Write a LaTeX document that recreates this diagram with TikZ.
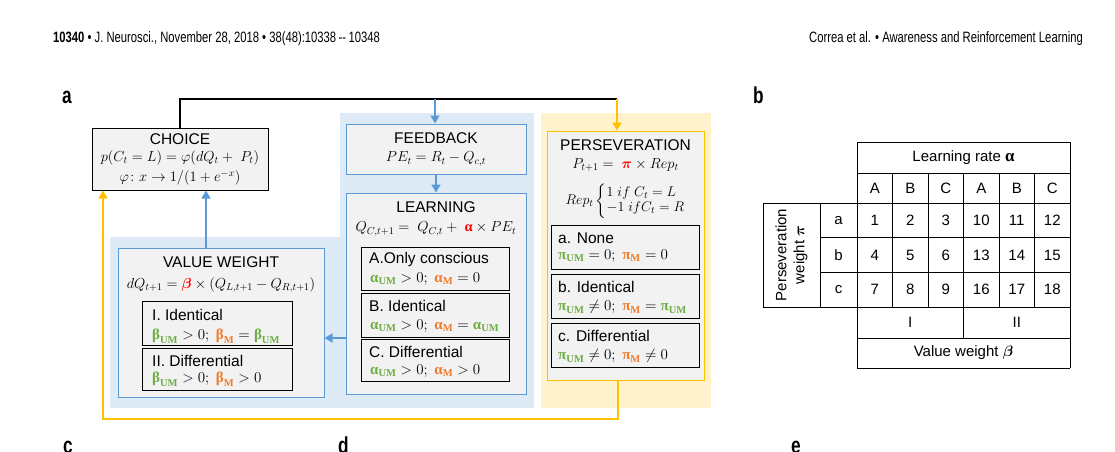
\RequirePackage{fix-cm}
\documentclass[tikz,border=0pt]{standalone}
\usepackage{amsmath}
\usepackage{fontspec}
\setmainfont{Liberation Sans}
\newfontfamily\hdrfont[FakeStretch=0.75]{Liberation Sans}
\newfontfamily\grkfont{Liberation Serif}
\usetikzlibrary{arrows.meta}

\definecolor{bluebg}{HTML}{DEEAF6}
\definecolor{blueln}{HTML}{5B9BD5}
\definecolor{yelbg}{HTML}{FFF2CC}
\definecolor{yelln}{HTML}{FFC000}
\definecolor{boxgray}{HTML}{F2F2F2}
\definecolor{grn}{HTML}{70AD47}
\definecolor{org}{HTML}{ED7D31}
\definecolor{rd}{HTML}{FF0000}

% bold upright greek with a subscript
\newcommand{\gk}[3]{\textcolor{#1}{\text{\grkfont\bfseries #2}_{\text{\grkfont\bfseries #3}}}}
\newcommand{\rgk}[1]{\textcolor{rd}{\text{\grkfont\bfseries #1}}}

\begin{document}
\begin{tikzpicture}[x=1pt,y=-1pt,
    box/.style={draw=black,fill=boxgray,line width=1pt,inner sep=0pt},
    bbox/.style={draw=blueln,fill=boxgray,line width=1pt,inner sep=0pt},
    ybox/.style={draw=yelln,fill=boxgray,line width=1pt,inner sep=0pt},
    ttl/.style={font=\fontsize{15.5}{17}\selectfont,inner sep=0pt},
    frm/.style={font=\fontsize{14.5}{17}\selectfont,inner sep=0pt},
    sub/.style={font=\fontsize{15.5}{17}\selectfont,inner sep=0pt,anchor=west},
    subf/.style={font=\fontsize{15}{17}\selectfont,inner sep=0pt,anchor=west},
    barrow/.style={draw=blueln,line width=1.6pt,-{Triangle[length=8pt,width=9pt]}},
    yarrow/.style={draw=yelln,line width=1.6pt,-{Triangle[length=8pt,width=9pt]}},
    cell/.style={font=\fontsize{15}{17}\selectfont,inner sep=0pt},
    panel/.style={font=\hdrfont\bfseries\fontsize{23}{23}\selectfont,inner sep=0pt,anchor=base west}]
\useasboundingbox (0,0) rectangle (1115,451);

% header
\node[anchor=base west,inner sep=0pt,font=\hdrfont\fontsize{15}{15}\selectfont] (hl) at (53,42)
  {\textbf{10340} \textbullet\ J. Neurosci., November 28, 2018 \textbullet\ 38(48):10338\,--\,10348};
\node[anchor=base east,inner sep=0pt,font=\hdrfont\fontsize{15}{15}\selectfont] (hr) at (1083,42)
  {Correa et al. \textbullet\ Awareness and Reinforcement Learning};

\node[panel] (pa) at (62,103) {a};
\node[panel] (pb) at (753,103) {b};
\node[panel] (pc) at (63,453) {c};
\node[panel] (pd) at (338,453) {d};
\node[panel] (pe) at (791,453) {e};

% backgrounds
\fill[bluebg] (110,237) -- (340,237) -- (340,113) -- (534,113) -- (534,408) -- (110,408) -- cycle;
\fill[yelbg] (541,113) rectangle (711,408);

% choice
\node[box,minimum width=176,minimum height=62] (choice) at (180,159) {};
\node[ttl] (choiceT) at (180,139) {CHOICE};
\node[frm] (choiceF1) at (180,158) {$p(C_t = L) = \varphi(dQ_t +\ P_t)$};
\node[frm] (choiceF2) at (180,178) {$\varphi\colon x \to 1/(1+e^{-x})$};

% feedback
\node[bbox,minimum width=180,minimum height=50] (fb) at (436,149) {};
\node[ttl] (fbT) at (436,138) {FEEDBACK};
\node[frm] (fbF) at (436,159) {$PE_t = R_t - Q_{c,t}$};

% learning
\node[bbox,minimum width=180,minimum height=201] (learn) at (436,293.5) {};
\node[ttl] (learnT) at (436,207) {LEARNING};
\node[frm] (learnF) at (436,229) {$Q_{C,t+1} =\ Q_{C,t} +\ \rgk{α} \times PE_t$};
\node[box,minimum width=148,minimum height=43] (la) at (435,268.5) {};
\node[box,minimum width=148,minimum height=44] (lb) at (435,315) {};
\node[box,minimum width=148,minimum height=42] (lc) at (435,360) {};
\node[sub] (laT) at (369,259) {A.Only conscious};
\node[subf] (laF) at (370,279) {$\gk{grn}{α}{UM} > 0;\ \gk{org}{α}{M} = 0$};
\node[sub] (lbT) at (369,306) {B. Identical};
\node[subf] (lbF) at (370,326) {$\gk{grn}{α}{UM} > 0;\ \gk{org}{α}{M} = \gk{grn}{α}{UM}$};
\node[sub] (lcT) at (369,352) {C. Differential};
\node[subf] (lcF) at (370,371) {$\gk{grn}{α}{UM} > 0;\ \gk{org}{α}{M} > 0$};

% value weight
\node[bbox,minimum width=206,minimum height=149] (vw) at (221,322.5) {};
\node[ttl] (vwT) at (221,262) {VALUE WEIGHT};
\node[frm] (vwF) at (221,285) {$dQ_{t+1} = \textcolor{rd}{\boldsymbol{\beta}} \times (Q_{L,t+1} - Q_{R,t+1})$};
\node[box,minimum width=150,minimum height=44] (vi) at (217,323) {};
\node[box,minimum width=150,minimum height=42] (vii) at (217,369) {};
\node[sub] (viT) at (152,315) {I. Identical};
\node[subf] (viF) at (152,336) {$\gk{grn}{β}{UM} > 0;\ \gk{org}{β}{M} = \gk{grn}{β}{UM}$};
\node[sub] (viiT) at (152,361) {II. Differential};
\node[subf] (viiF) at (152,379) {$\gk{grn}{β}{UM} > 0;\ \gk{org}{β}{M} > 0$};

% perseveration
\node[ybox,minimum width=157,minimum height=249] (pers) at (625.5,255.5) {};
\node[ttl] (persT) at (625.5,145) {PERSEVERATION};
\node[frm] (persF) at (625.5,165) {$P_{t+1} =\ \textcolor{rd}{\boldsymbol{\pi}} \times Rep_t$};
\node[frm,font=\fontsize{14}{16}\selectfont] (persR) at (625.5,201)
  {$Rep_t \left\{\renewcommand{\arraystretch}{0.95}\begin{array}{@{}l@{}} 1\ if\ C_t = L\\ -1\ if C_t = R\end{array}\right.$};
\node[box,minimum width=148,minimum height=44] (pa1) at (625,247) {};
\node[box,minimum width=148,minimum height=44] (pb1) at (625,296) {};
\node[box,minimum width=148,minimum height=44] (pc1) at (625,345) {};
\node[sub] (paT) at (558,238) {a. None};
\node[subf] (paF) at (558,256) {$\gk{grn}{π}{UM} = 0;\ \gk{org}{π}{M} = 0$};
\node[sub] (pbT) at (558,287) {b. Identical};
\node[subf] (pbF) at (558,307) {$\gk{grn}{π}{UM} \neq 0;\ \gk{org}{π}{M} = \gk{grn}{π}{UM}$};
\node[sub] (pcT) at (558,336) {c. Differential};
\node[subf] (pcF) at (558,356) {$\gk{grn}{π}{UM} \neq 0;\ \gk{org}{π}{M} \neq 0$};

% connectors
\coordinate (jm) at (435,99);
\coordinate (jr) at (617,99);
\coordinate (yc) at (103,419);
\draw[line width=1.6pt] (choice.north) |- (jr);
\draw[barrow] (jm) -- (jm |- fb.north);
\draw[yarrow] (jr) -- (jr |- pers.north);
\draw[barrow] (fb.south) -- (learn.north);
\draw[barrow] (learn.west |- 0,338) -- (vw.east |- 0,338);
\draw[barrow] (vw.north -| 206,0) -- (choice.south -| 206,0);
\draw[yarrow] (pers.south -| 618,0) |- (yc) -- (choice.south -| yc);

% table
\draw[line width=0.8pt] (857,142) -- (1070,142) (857,173) -- (1070,173)
  (763,203) -- (1070,203) (820,237.7) -- (1070,237.7) (820,272.3) -- (1070,272.3)
  (763,307) -- (1070,307) (857,338) -- (1070,338) (857,368) -- (1070,368);
\draw[line width=0.8pt] (857,142) -- (857,368) (1070,142) -- (1070,368)
  (763,203) -- (763,307) (820,203) -- (820,307) (963.5,307) -- (963.5,338);
\foreach \i in {1,...,5}
  \draw[line width=0.8pt] (857+35.5*\i,173) -- (857+35.5*\i,307);
\node[cell] (lrate) at (963.5,158) {Learning rate {\grkfont\bfseries\fontsize{17}{17}\selectfont α}};
\foreach \l [count=\i from 0] in {A,B,C,A,B,C}
  \node[cell] (h\i) at (874.75+35.5*\i,188) {\l};
\foreach \r [count=\j from 0] in {a,b,c} {
  \node[cell] (r\j) at (838.5,220.3+34.7*\j) {\r};
  \foreach \i in {0,1,2} {
    \pgfmathtruncatemacro{\va}{3*\j+\i+1}
    \pgfmathtruncatemacro{\vb}{3*\j+\i+10}
    \node[cell] (c\j\i) at (874.75+35.5*\i,220.3+34.7*\j) {\va};
    \node[cell] (d\j\i) at (981.25+35.5*\i,220.3+34.7*\j) {\vb};
  }
}
\node[cell,rotate=90,align=center,font=\fontsize{15}{18}\selectfont] (pw) at (791.5,255) {Perseveration\\weight $\boldsymbol{\pi}$};
\node[cell] (gI) at (910.25,322.5) {I};
\node[cell] (gII) at (1016.75,322.5) {II};
\node[cell] (vwt) at (963.5,353) {Value weight $\boldsymbol{\beta}$};
\end{tikzpicture}
\end{document}
